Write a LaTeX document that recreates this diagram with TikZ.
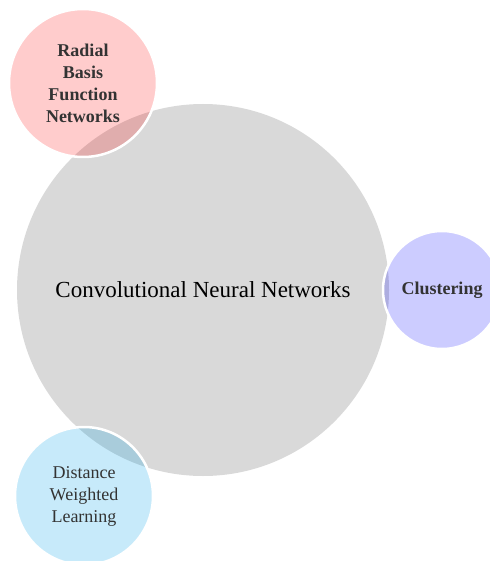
\documentclass[tikz,border=0pt]{standalone}
\usepackage{fontspec}
\setmainfont{Liberation Serif}
\usetikzlibrary{positioning}
\definecolor{skyblue}{RGB}{0,160,230}
\tikzset{bubble/.style={circle, inner sep=0pt, align=center, text=black!80,
                        draw=white, line width=2.5pt, fill opacity=0.2, draw opacity=1, text opacity=1,
                        font=\fontsize{18}{22}\selectfont}}

\begin{document}
\begin{tikzpicture}[x=1pt,y=-1pt]
   \useasboundingbox (0,0) rectangle (489,561);
   \node[circle, fill=black!15, minimum size=372pt, font=\fontsize{23}{27}\selectfont] (cnn) at (203,290) {Convolutional Neural Networks};
   \node[bubble, fill=red,      minimum size=148pt, font=\fontsize{18}{22}\selectfont\bfseries] (rbf)  at ( 83, 83) {Radial\\Basis\\Function\\Networks};
   \node[bubble, fill=blue,     minimum size=118pt, font=\fontsize{18}{22}\selectfont\bfseries] (clus) at (442,290) {Clustering};
   \node[bubble, fill=skyblue,  minimum size=138pt, fill opacity=0.22] (dwl) at ( 84,496) {Distance\\Weighted\\Learning};
\end{tikzpicture}
\end{document}
